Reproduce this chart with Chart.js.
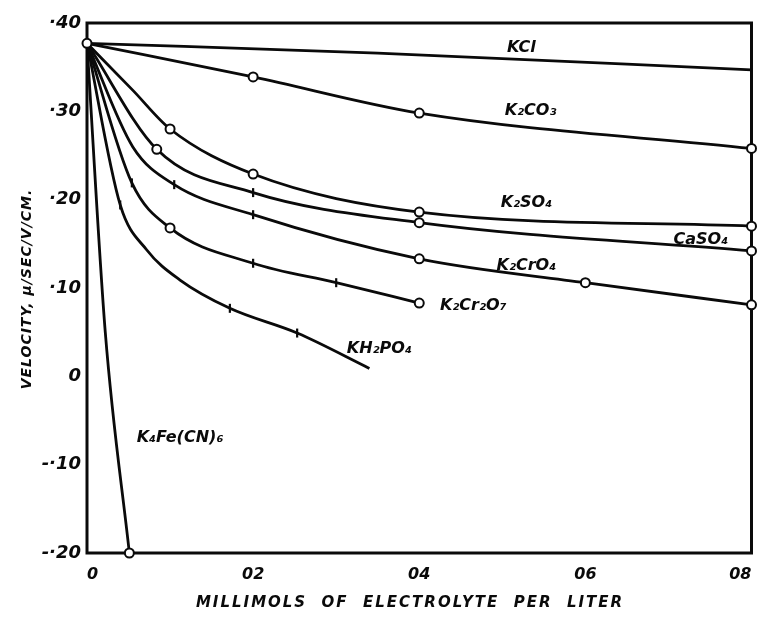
<!DOCTYPE html>
<html>
<head>
<meta charset="utf-8">
<script src="https://cdn.jsdelivr.net/npm/chart.js@4/dist/chart.umd.min.js"></script>
<style>
  html, body { margin: 0; padding: 0; background: #fff; }
  #wrap { width: 758px; height: 626px; position: relative; }
</style>
</head>
<body>
<div id="wrap"><canvas id="c"></canvas></div>
<script>
// Electrophoretic velocity (μ/sec per V/cm) against electrolyte concentration (millimols per liter)

// Axis ticks
const xTickValues = [0, 0.02, 0.04, 0.06, 0.08];
const xTickLabels = ['0', '02', '04', '06', '08'];
const yTickValues = [0.4, 0.3, 0.2, 0.1, 0, -0.1, -0.2];
const yTickLabels = ['\u00b740', '\u00b730', '\u00b720', '\u00b710', '0', '-\u00b710', '-\u00b720'];

// KCl
const kclConc = [0, 0.035, 0.08];
const kclVel  = [0.377, 0.366, 0.347];
// K2CO3
const k2co3Conc = [0, 0.02, 0.04, 0.08];
const k2co3Vel  = [0.377, 0.339, 0.298, 0.258];
// K2SO4
const k2so4Conc = [0, 0.0055, 0.01, 0.02, 0.04, 0.08];
const k2so4Vel  = [0.377, 0.324, 0.280, 0.229, 0.186, 0.170];
// CaSO4
const caso4Conc = [0, 0.0084, 0.02, 0.04, 0.08];
const caso4Vel  = [0.377, 0.257, 0.208, 0.174, 0.142];
// K2CrO4
const k2cro4Conc = [0, 0.0055, 0.0105, 0.02, 0.04, 0.06, 0.08];
const k2cro4Vel  = [0.377, 0.260, 0.217, 0.183, 0.133, 0.106, 0.081];
// K2Cr2O7
const k2cr2o7Conc = [0, 0.0054, 0.01, 0.02, 0.03, 0.04];
const k2cr2o7Vel  = [0.377, 0.219, 0.168, 0.128, 0.106, 0.083];
// KH2PO4
const kh2po4Conc = [0, 0.004, 0.0072, 0.0112, 0.0172, 0.0253, 0.034];
const kh2po4Vel  = [0.377, 0.194, 0.143, 0.109, 0.077, 0.049, 0.009];
// K4Fe(CN)6
const k4fecn6Conc = [0, 0.0022, 0.0051];
const k4fecn6Vel  = [0.377, 0.05, -0.20];

// Marker kind at each point: 'o' open circle, '|' tick, '' none
const kclMarks     = ['o', '', ''];
const k2co3Marks   = ['', 'o', 'o', 'o'];
const k2so4Marks   = ['', '', 'o', 'o', 'o', 'o'];
const caso4Marks   = ['', 'o', '|', 'o', 'o'];
const k2cro4Marks  = ['', '', '|', '|', 'o', 'o', 'o'];
const k2cr2o7Marks = ['', '|', 'o', '|', '|', 'o'];
const kh2po4Marks  = ['', '|', '', '', '|', '|', ''];
const k4fecn6Marks = ['', '', 'o'];

const series = [
  { name: 'KCl',        conc: kclConc,     vel: kclVel,     marks: kclMarks },
  { name: 'K\u2082CO\u2083',   conc: k2co3Conc,   vel: k2co3Vel,   marks: k2co3Marks },
  { name: 'K\u2082SO\u2084',   conc: k2so4Conc,   vel: k2so4Vel,   marks: k2so4Marks },
  { name: 'CaSO\u2084',        conc: caso4Conc,   vel: caso4Vel,   marks: caso4Marks },
  { name: 'K\u2082CrO\u2084',  conc: k2cro4Conc,  vel: k2cro4Vel,  marks: k2cro4Marks },
  { name: 'K\u2082Cr\u2082O\u2087', conc: k2cr2o7Conc, vel: k2cr2o7Vel, marks: k2cr2o7Marks },
  { name: 'KH\u2082PO\u2084',  conc: kh2po4Conc,  vel: kh2po4Vel,  marks: kh2po4Marks },
  { name: 'K\u2084Fe(CN)\u2086', conc: k4fecn6Conc, vel: k4fecn6Vel, marks: k4fecn6Marks }
];

// Curve names written beside the lines (data coordinates of the text centre)
const curveLabels = [
  { text: 'KCl',                 x: 0.0523, y: 0.372 },
  { text: 'K\u2082CO\u2083',     x: 0.0534, y: 0.301 },
  { text: 'K\u2082SO\u2084',     x: 0.0529, y: 0.196 },
  { text: 'CaSO\u2084',          x: 0.0739, y: 0.154 },
  { text: 'K\u2082CrO\u2084',    x: 0.0529, y: 0.125 },
  { text: 'K\u2082Cr\u2082O\u2087', x: 0.0465, y: 0.080 },
  { text: 'KH\u2082PO\u2084',    x: 0.0352, y: 0.031 },
  { text: 'K\u2084Fe(CN)\u2086', x: 0.0112, y: -0.070 }
];

const INK = '#0a0a0a';

const datasets = series.map(s => ({
  label: s.name,
  data: s.conc.map((x, i) => ({ x: x, y: s.vel[i] })),
  borderColor: INK,
  borderWidth: 2.8,
  fill: false,
  cubicInterpolationMode: 'monotone',
  clip: false,
  pointStyle: s.marks.map(m => (m === '|' ? 'line' : 'circle')),
  pointRotation: s.marks.map(m => (m === '|' ? 90 : 0)),
  pointRadius: s.marks.map(m => (m === 'o' ? 4.5 : (m === '|' ? 4.5 : 0))),
  pointHoverRadius: 0,
  pointBorderWidth: s.marks.map(m => (m === '|' ? 2.2 : 2)),
  pointBackgroundColor: '#fff',
  pointBorderColor: INK
}));

// Box round the plot, curve names and axis titles
const sketchPlugin = {
  id: 'sketch',
  beforeDatasetsDraw(chart) {
    const { ctx, chartArea: a } = chart;
    ctx.save();
    ctx.strokeStyle = INK;
    ctx.lineWidth = 3;
    ctx.strokeRect(a.left, a.top, a.right - a.left, a.bottom - a.top);
    ctx.restore();
  },
  afterDraw(chart) {
    const { ctx, scales } = chart;
    const xs = scales.x, ys = scales.y;
    ctx.save();
    ctx.fillStyle = INK;
    ctx.textAlign = 'center';
    ctx.textBaseline = 'middle';
    ctx.font = 'italic bold 16px "DejaVu Sans"';
    curveLabels.forEach(l => {
      ctx.fillText(l.text, xs.getPixelForValue(l.x), ys.getPixelForValue(l.y));
    });

    // x axis title
    ctx.font = 'italic bold 15px "DejaVu Sans"';
    if ('letterSpacing' in ctx) ctx.letterSpacing = '2px';
    ctx.fillText('MILLIMOLS  OF  ELECTROLYTE  PER  LITER', 410, 603);

    // y axis title
    ctx.translate(27, 289);
    ctx.rotate(-Math.PI / 2);
    if ('letterSpacing' in ctx) ctx.letterSpacing = '1px';
    ctx.font = 'italic bold 14px "DejaVu Sans"';
    ctx.fillText('VELOCITY, \u03bc/SEC/V/CM.', 0, 0);
    ctx.restore();
  }
};

new Chart(document.getElementById('c'), {
  type: 'line',
  data: { datasets: datasets },
  options: {
    responsive: true,
    maintainAspectRatio: false,
    animation: false,
    events: [],
    layout: { padding: { left: 0, top: 23, right: 6, bottom: 0 } },
    plugins: { legend: { display: false }, tooltip: { enabled: false }, title: { display: false } },
    scales: {
      x: {
        type: 'linear',
        min: 0,
        max: 0.08,
        grid: { display: false, drawTicks: false },
        border: { display: false },
        afterBuildTicks: s => { s.ticks = xTickValues.map(v => ({ value: v })); },
        afterFit: s => { s.height = 73; s.paddingLeft = 0; s.paddingRight = 0; },
        ticks: {
          padding: 12,
          align: 'inner',
          maxRotation: 0,
          autoSkip: false,
          color: INK,
          font: { family: 'DejaVu Sans', size: 16, weight: 'bold', style: 'italic' },
          callback: (v, i) => xTickLabels[i]
        }
      },
      y: {
        type: 'linear',
        min: -0.2,
        max: 0.4,
        grid: { display: false, drawTicks: false },
        border: { display: false },
        afterBuildTicks: s => { s.ticks = yTickValues.map(v => ({ value: v })); },
        afterFit: s => { s.width = 87; },
        ticks: {
          padding: 6,
          autoSkip: false,
          color: INK,
          font: { family: 'DejaVu Sans', size: 18, weight: 'bold', style: 'italic' },
          callback: (v, i) => yTickLabels[i]
        }
      }
    }
  },
  plugins: [sketchPlugin]
});
</script>
</body>
</html>
